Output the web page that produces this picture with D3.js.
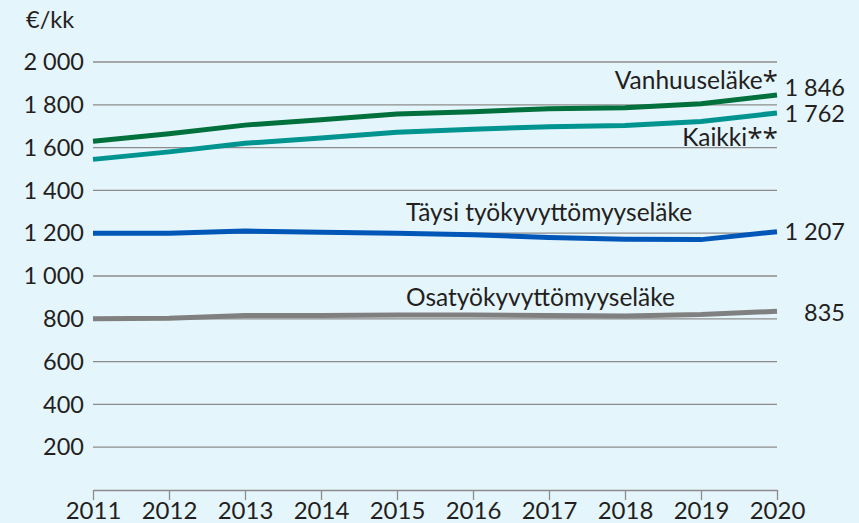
<!DOCTYPE html>
<html>
<head>
<meta charset="utf-8">
<script src="https://cdn.jsdelivr.net/npm/d3@7"></script>
<style>
  body { margin: 0; background: #e5f5fc; }
  svg { display: block; font-family: Lato, "Open Sans", sans-serif; }
</style>
</head>
<body>
<script>
// vuodet ja sarjat
var years = [2011, 2012, 2013, 2014, 2015, 2016, 2017, 2018, 2019, 2020];
var vanhuus = [1630, 1665, 1705, 1730, 1757, 1768, 1782, 1786, 1805, 1846];
var kaikki = [1545, 1580, 1620, 1645, 1672, 1686, 1698, 1703, 1722, 1762];
var taysi = [1200, 1200, 1210, 1205, 1200, 1193, 1180, 1172, 1170, 1207];
var osa = [800, 803, 815, 815, 818, 818, 815, 813, 820, 835];
var yTicks = [200, 400, 600, 800, 1000, 1200, 1400, 1600, 1800, 2000];

var W = 859, H = 523;
var svg = d3.select('body').append('svg').attr('width', W).attr('height', H);
svg.append('rect').attr('width', W).attr('height', H).attr('fill', '#e5f5fc');

var x = d3.scaleLinear().domain([2011, 2020]).range([93, 777]);
var y = d3.scaleLinear().domain([0, 2000]).range([490, 62]);

function fmt(v) {
    return d3.format(',')(v).replace(/,/g, ' ');
}

// vaakaviivat
svg.selectAll('line.grid').data(yTicks).enter().append('line')
    .attr('class', 'grid')
    .attr('x1', x(2011)).attr('x2', x(2020))
    .attr('y1', function (d) { return y(d); })
    .attr('y2', function (d) { return y(d); })
    .attr('stroke', '#8c8c8c').attr('stroke-width', 1.3);

svg.selectAll('text.ytick').data(yTicks).enter().append('text')
    .attr('x', 84)
    .attr('y', function (d) { return y(d); })
    .attr('dy', '0.35em')
    .attr('text-anchor', 'end')
    .attr('font-size', 23.5)
    .attr('fill', '#231f20')
    .text(fmt);

svg.append('text').attr('x', 26).attr('y', 20).attr('dy', '0.35em')
    .attr('font-size', 23.5).attr('fill', '#231f20').text('€/kk');

// x-akseli
var xAxis = d3.axisBottom(x).tickValues(years).tickFormat(d3.format('d'))
    .tickSize(10).tickSizeOuter(0);
var gx = svg.append('g').attr('transform', 'translate(0,' + y(0) + ')').call(xAxis);
gx.select('.domain').attr('stroke', '#8c8c8c').attr('stroke-width', 1.3);
gx.selectAll('.tick line').attr('stroke', '#8c8c8c').attr('stroke-width', 1.3);
gx.selectAll('.tick text').attr('font-size', 24).attr('fill', '#231f20')
    .attr('font-family', 'Lato, sans-serif').attr('y', 12);

var line = d3.line()
    .x(function (d, i) { return x(years[i]); })
    .y(function (d) { return y(d); });

var series = [
    {values: osa, color: '#808080'},
    {values: taysi, color: '#0057b8'},
    {values: kaikki, color: '#009490'},
    {values: vanhuus, color: '#00703c'}
];
series.forEach(function (s) {
    svg.append('path').datum(s.values)
        .attr('d', line)
        .attr('fill', 'none')
        .attr('stroke', s.color)
        .attr('stroke-width', 5);
});

// nimet
var names = [
    {t: 'Vanhuuseläke', star: '*', x: 778, y: 80, a: 'end'},
    {t: 'Kaikki', star: '**', x: 778, y: 137, a: 'end'},
    {t: 'Täysi työkyvyttömyyseläke', star: '', x: 406, y: 212, a: 'start'},
    {t: 'Osatyökyvyttömyyseläke', star: '', x: 406, y: 297, a: 'start'}
];
var nt = svg.selectAll('text.name').data(names).enter().append('text')
    .attr('x', function (d) { return d.x; })
    .attr('y', function (d) { return d.y; })
    .attr('dy', '0.35em')
    .attr('text-anchor', function (d) { return d.a; })
    .attr('font-size', 24.5)
    .attr('fill', '#231f20');
nt.append('tspan').text(function (d) { return d.t; });
nt.append('tspan').attr('font-size', 28).attr('font-family', '"Open Sans", sans-serif')
    .attr('dy', '0.1em')
    .text(function (d) { return d.star; });

// loppuarvot
var ends = [
    {v: vanhuus[9], y: 88},
    {v: kaikki[9], y: 114},
    {v: taysi[9], y: 232},
    {v: osa[9], y: 313}
];
svg.selectAll('text.end').data(ends).enter().append('text')
    .attr('x', 845)
    .attr('y', function (d) { return d.y; })
    .attr('dy', '0.35em')
    .attr('text-anchor', 'end')
    .attr('font-size', 23.5)
    .attr('fill', '#231f20')
    .text(function (d) { return fmt(d.v); });
</script>
</body>
</html>
